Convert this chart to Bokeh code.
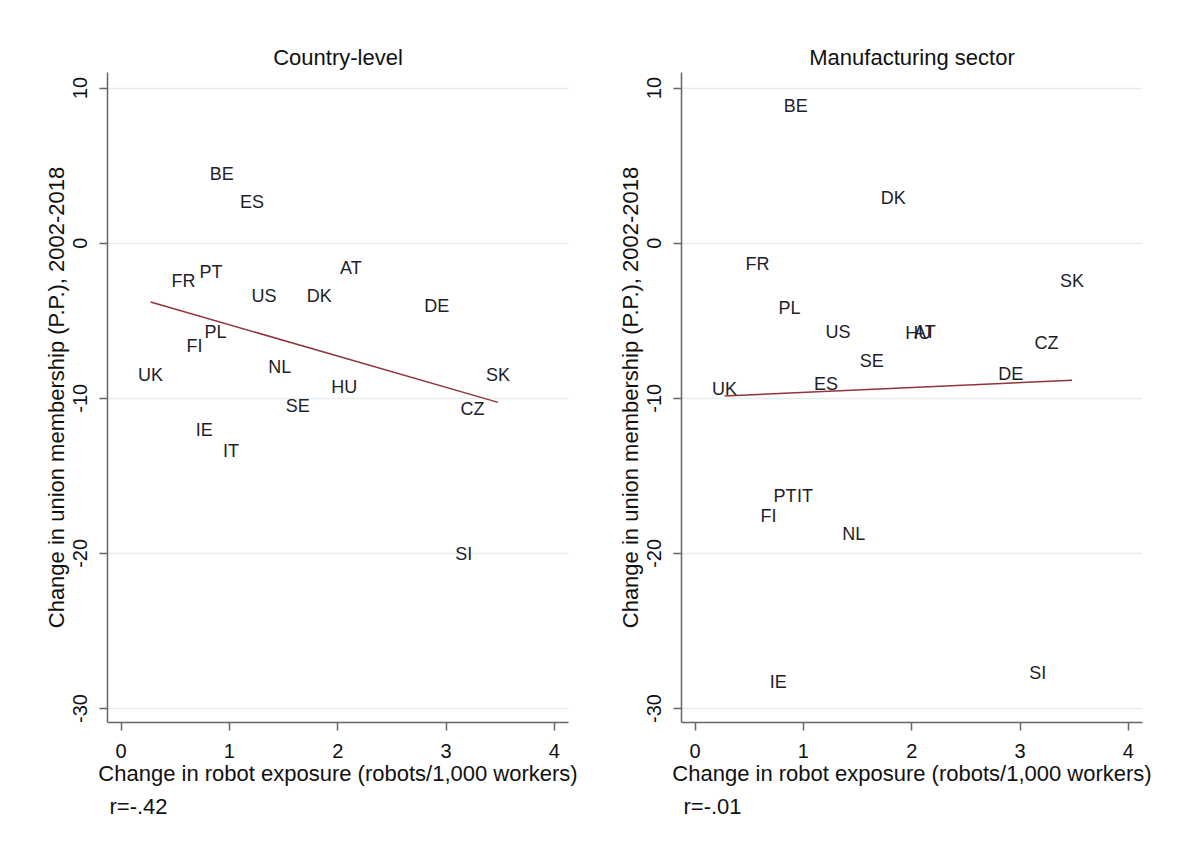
from bokeh.plotting import figure
from bokeh.layouts import row
from bokeh.models import ColumnDataSource, Range1d, Title, FixedTicker
from bokeh.core.properties import value
from bokeh.embed import file_html
from bokeh.resources import INLINE
import numpy as np

countries = ["AT", "BE", "CZ", "DE", "DK", "ES", "FI", "FR", "HU", "IE",
             "IT", "NL", "PL", "PT", "SE", "SI", "SK", "UK", "US"]
robot_change = [2.121, 0.929, 3.245, 2.913, 1.830, 1.209, 0.679, 0.576, 2.060, 0.767,
                1.014, 1.466, 0.873, 0.830, 1.632, 3.163, 3.480, 0.273, 1.320]
union_country = [-1.61, 4.44, -10.69, -4.08, -3.39, 2.64, -6.66, -2.41, -9.30, -12.02,
                 -13.42, -8.01, -5.75, -1.83, -10.48, -20.03, -8.48, -8.48, -3.39]
union_manuf = [-5.70, 8.84, -6.44, -8.44, 2.90, -9.06, -17.60, -1.33, -5.80, -28.27,
               -16.27, -18.78, -4.19, -16.27, -7.62, -27.69, -2.41, -9.38, -5.73]

panel_titles = ["Country-level", "Manufacturing sector"]
r_texts = ["r=-.42", "r=-.01"]
x_ticks = [0, 1, 2, 3, 4]
y_ticks = [-30, -20, -10, 0, 10]
y_tick_labels = {t: str(t) for t in y_ticks}
x_title = "Change in robot exposure (robots/1,000 workers)"
y_title = "Change in union membership (P.P.), 2002-2018"

FONT = "Liberation Sans"
TXT = "#111111"
AX = "#666666"


def make_panel(title, yvals, rtext, bl, br):
    p = figure(frame_width=461, frame_height=650,
               min_border_left=bl, min_border_right=br,
               min_border_top=72, min_border_bottom=110,
               x_range=Range1d(-0.125, 4.13), y_range=Range1d(-30.9, 11.0),
               output_backend="svg", toolbar_location=None)
    p.title.text = title
    p.title.align = "center"
    p.title.text_font = FONT
    p.title.text_font_size = "22px"
    p.title.text_font_style = "normal"
    p.title.text_color = TXT
    p.title.standoff = 6
    p.outline_line_color = None
    p.background_fill_color = "white"
    p.border_fill_color = "white"

    p.xgrid.visible = False
    p.ygrid.ticker = FixedTicker(ticks=y_ticks)
    p.ygrid.grid_line_color = "#e6eef0"
    p.ygrid.grid_line_width = 1.5

    for ax in (p.xaxis[0], p.yaxis[0]):
        ax.axis_line_color = AX
        ax.axis_line_width = 1.5
        ax.major_tick_line_color = AX
        ax.major_tick_line_width = 1.5
        ax.major_tick_in = 0
        ax.major_tick_out = 8
        ax.minor_tick_line_color = None
        ax.major_label_text_font = FONT
        ax.major_label_text_font_size = "20px"
        ax.major_label_text_color = TXT
        ax.axis_label_text_font = FONT
        ax.axis_label_text_font_size = "22px"
        ax.axis_label_text_font_style = "normal"
        ax.axis_label_text_color = TXT

    p.xaxis.ticker = FixedTicker(ticks=x_ticks)
    p.yaxis.ticker = FixedTicker(ticks=y_ticks)
    p.yaxis.major_label_overrides = y_tick_labels
    p.xaxis.axis_label = x_title
    p.yaxis.axis_label = y_title
    p.yaxis.major_label_orientation = "vertical"
    p.xaxis.major_label_standoff = 13
    p.xaxis.axis_label_standoff = 0
    p.yaxis.major_label_standoff = 12
    p.yaxis.axis_label_standoff = 2

    src = ColumnDataSource(dict(x=robot_change, y=yvals, c=countries))
    p.text(x="x", y="y", text="c", source=src, text_align="center",
           text_baseline="middle", text_font=value(FONT),
           text_font_size=value("18px"), text_color="#1e1e2a")

    xa = np.array(robot_change)
    ya = np.array(yvals)
    slope, icpt = np.polyfit(xa, ya, 1)
    xs = [xa.min(), xa.max()]
    ys = [icpt + slope * v for v in xs]
    p.line(xs, ys, line_color="#90353b", line_width=1.5)

    t = Title(text=rtext, align="left", offset=2, text_font=FONT,
              text_font_size="22px", text_font_style="normal", text_color=TXT,
              standoff=6)
    p.add_layout(t, "below")
    return p


p1 = make_panel(panel_titles[0], union_country, r_texts[0], 107, 14)
p2 = make_panel(panel_titles[1], union_manuf, r_texts[1], 99, 30)
layout = row(p1, p2)

open("out.html", "w").write(file_html(layout, INLINE))
